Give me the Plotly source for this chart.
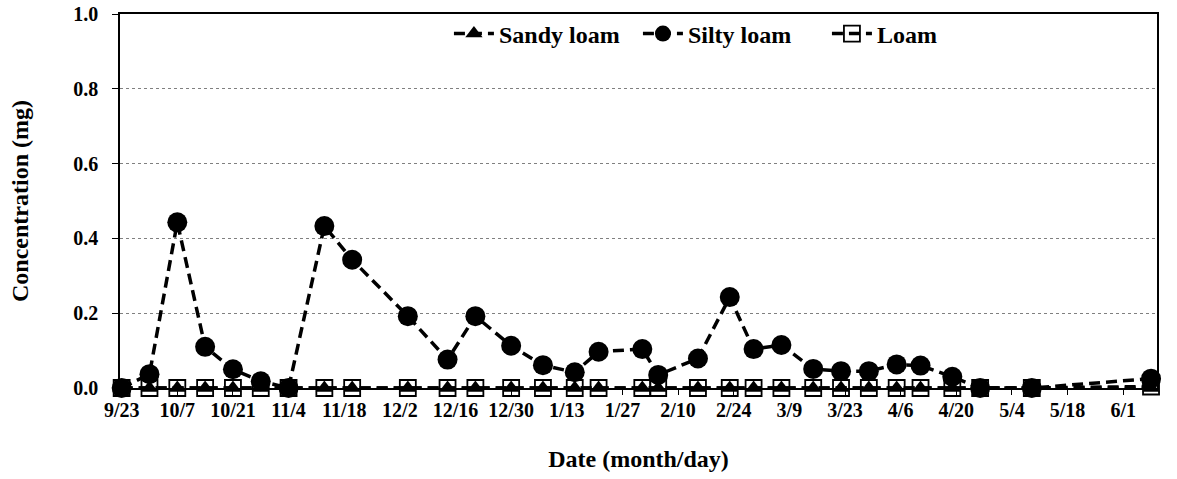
import plotly.graph_objects as go

dates = ["2011-09-23", "2011-09-30", "2011-10-07", "2011-10-14", "2011-10-21", "2011-10-28",
         "2011-11-04", "2011-11-13", "2011-11-20", "2011-12-04", "2011-12-14", "2011-12-21",
         "2011-12-30", "2012-01-07", "2012-01-15", "2012-01-21", "2012-02-01", "2012-02-05",
         "2012-02-15", "2012-02-23", "2012-02-29", "2012-03-07", "2012-03-15", "2012-03-22",
         "2012-03-29", "2012-04-05", "2012-04-11", "2012-04-19", "2012-04-26", "2012-05-09",
         "2012-06-08"]

sandy_loam = [0.0] * 31
silty_loam = [0.0, 0.037, 0.443, 0.110, 0.050, 0.018, 0.0, 0.433, 0.343, 0.192, 0.076, 0.192,
              0.113, 0.061, 0.042, 0.097, 0.104, 0.035, 0.079, 0.243, 0.104, 0.115, 0.051, 0.045,
              0.045, 0.063, 0.060, 0.030, 0.0, 0.0, 0.025]
loam = [0.0] * 30 + [0.004]

FONT = "Liberation Serif, Times New Roman, serif"
dash = "11px,6px"

fig = go.Figure()
fig.add_trace(go.Scatter(
    x=dates, y=sandy_loam, name="Sandy loam", mode="lines+markers",
    line=dict(color="black", width=3.5, dash=dash),
    marker=dict(symbol="triangle-up", size=15, color="black"),
    cliponaxis=False))
fig.add_trace(go.Scatter(
    x=dates, y=silty_loam, name="Silty loam", mode="lines+markers",
    line=dict(color="black", width=3.5, dash=dash),
    marker=dict(symbol="circle", size=20, color="black"),
    cliponaxis=False))
fig.add_trace(go.Scatter(
    x=dates, y=loam, name="Loam", mode="lines+markers",
    line=dict(color="black", width=3.5, dash=dash),
    marker=dict(symbol="square-open", size=16, color="black", line=dict(width=1.8)),
    cliponaxis=False))

fig.update_layout(
    width=1177, height=479,
    margin=dict(l=120, r=20, t=13, b=91),
    paper_bgcolor="white", plot_bgcolor="white",
    font=dict(family=FONT, size=20, color="black", weight="bold"),
    legend=dict(orientation="h", x=0.3172, xanchor="left", y=0.944, yanchor="middle",
                font=dict(family=FONT, size=24, color="black", weight="bold"),
                bgcolor="rgba(0,0,0,0)", itemwidth=40, tracegroupgap=0,
                entrywidth=134, entrywidthmode="pixels"),
    showlegend=True,
)
fig.update_xaxes(
    type="date", automargin=False,
    range=["2011-09-22 14:00", "2012-06-09 12:00"],
    tick0="2011-09-23", dtick=14 * 86400000, tickformat="%-m/%-d",
    showline=True, linecolor="black", linewidth=1.5, mirror=True,
    ticks="outside", ticklen=5, tickcolor="black", ticklabelstandoff=-2,
    showgrid=False, zeroline=False,
    tickfont=dict(family=FONT, size=20, color="black", weight="bold"),
    title=dict(text="Date (month/day)", standoff=30,
               font=dict(family=FONT, size=24, color="black", weight="bold")),
)
fig.update_yaxes(
    range=[0, 1], dtick=0.2, tickformat=".1f", automargin=False,
    showline=True, linecolor="black", linewidth=1.5, mirror=True,
    ticks="outside", ticklen=6, tickcolor="black", ticklabelstandoff=10,
    showgrid=True, gridcolor="#808080", gridwidth=1, griddash="dot",
    zeroline=False,
    tickfont=dict(family=FONT, size=20, color="black", weight="bold"),
    title=dict(text="Concentration (mg)", standoff=38,
               font=dict(family=FONT, size=24, color="black", weight="bold")),
)

fig.write_html("out.html")
